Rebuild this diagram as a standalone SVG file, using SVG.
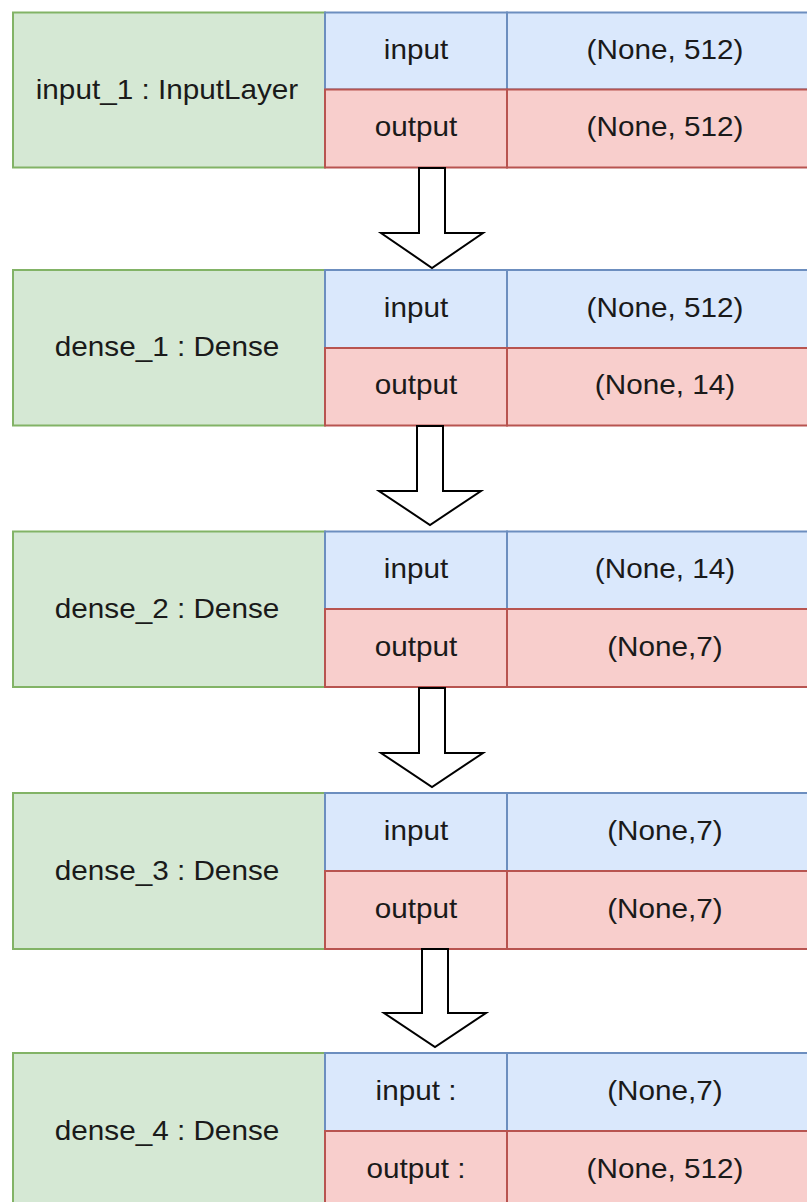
<svg xmlns="http://www.w3.org/2000/svg" width="807" height="1202" viewBox="0 0 807 1202">
  <style>
    .bg { fill: #ffffff; }
    .name { fill: #d5e8d4; stroke: #82b366; stroke-width: 2; }
    .in { fill: #dae8fc; stroke: #6c8ebf; stroke-width: 2; }
    .out { fill: #f8cecc; stroke: #b85450; stroke-width: 2; }
    .arrow { fill: #ffffff; stroke: #000000; stroke-width: 2; stroke-linejoin: miter; }
    text { font-family: "Liberation Sans", Arial, sans-serif; font-size: 27px; fill: #1a1a1a; text-anchor: middle; }
  </style>
  <rect class="bg" x="0" y="0" width="807" height="1202"/>

  <!-- Layer: input_1 -->
  <g id="input_1">
    <rect class="name" x="13" y="12.5" width="312" height="155"/>
    <rect class="in" x="325" y="12.5" width="182" height="77"/>
    <rect class="in" x="507" y="12.5" width="315" height="77"/>
    <rect class="out" x="325" y="89.5" width="182" height="78"/>
    <rect class="out" x="507" y="89.5" width="315" height="78"/>
    <text transform="translate(167,98.5) scale(1.1,1)">input_1 : InputLayer</text>
    <text transform="translate(416,58.5) scale(1.1,1)">input</text>
    <text transform="translate(665,58.5) scale(1.1,1)">(None, 512)</text>
    <text transform="translate(416,136) scale(1.1,1)">output</text>
    <text transform="translate(665,136) scale(1.1,1)">(None, 512)</text>
  </g>

  <!-- Layer: dense_1 -->
  <g id="dense_1">
    <rect class="name" x="13" y="270" width="312" height="155.5"/>
    <rect class="in" x="325" y="270" width="182" height="78"/>
    <rect class="in" x="507" y="270" width="315" height="78"/>
    <rect class="out" x="325" y="348" width="182" height="77.5"/>
    <rect class="out" x="507" y="348" width="315" height="77.5"/>
    <text transform="translate(167,356) scale(1.1,1)">dense_1 : Dense</text>
    <text transform="translate(416,316.5) scale(1.1,1)">input</text>
    <text transform="translate(665,316.5) scale(1.1,1)">(None, 512)</text>
    <text transform="translate(416,394) scale(1.1,1)">output</text>
    <text transform="translate(665,394) scale(1.1,1)">(None, 14)</text>
  </g>

  <!-- Layer: dense_2 -->
  <g id="dense_2">
    <rect class="name" x="13" y="531.5" width="312" height="155.5"/>
    <rect class="in" x="325" y="531.5" width="182" height="77.5"/>
    <rect class="in" x="507" y="531.5" width="315" height="77.5"/>
    <rect class="out" x="325" y="609" width="182" height="78"/>
    <rect class="out" x="507" y="609" width="315" height="78"/>
    <text transform="translate(167,617.5) scale(1.1,1)">dense_2 : Dense</text>
    <text transform="translate(416,577.5) scale(1.1,1)">input</text>
    <text transform="translate(665,577.5) scale(1.1,1)">(None, 14)</text>
    <text transform="translate(416,655.5) scale(1.1,1)">output</text>
    <text transform="translate(665,655.5) scale(1.1,1)">(None,7)</text>
  </g>

  <!-- Layer: dense_3 -->
  <g id="dense_3">
    <rect class="name" x="13" y="793" width="312" height="156"/>
    <rect class="in" x="325" y="793" width="182" height="78"/>
    <rect class="in" x="507" y="793" width="315" height="78"/>
    <rect class="out" x="325" y="871" width="182" height="78"/>
    <rect class="out" x="507" y="871" width="315" height="78"/>
    <text transform="translate(167,879.5) scale(1.1,1)">dense_3 : Dense</text>
    <text transform="translate(416,839.5) scale(1.1,1)">input</text>
    <text transform="translate(665,839.5) scale(1.1,1)">(None,7)</text>
    <text transform="translate(416,917.5) scale(1.1,1)">output</text>
    <text transform="translate(665,917.5) scale(1.1,1)">(None,7)</text>
  </g>

  <!-- Layer: dense_4 -->
  <g id="dense_4">
    <rect class="name" x="13" y="1053" width="312" height="156"/>
    <rect class="in" x="325" y="1053" width="182" height="78"/>
    <rect class="in" x="507" y="1053" width="315" height="78"/>
    <rect class="out" x="325" y="1131" width="182" height="78"/>
    <rect class="out" x="507" y="1131" width="315" height="78"/>
    <text transform="translate(167,1139.5) scale(1.1,1)">dense_4 : Dense</text>
    <text transform="translate(416,1099.5) scale(1.1,1)">input :</text>
    <text transform="translate(665,1099.5) scale(1.1,1)">(None,7)</text>
    <text transform="translate(416,1177.5) scale(1.1,1)">output :</text>
    <text transform="translate(665,1177.5) scale(1.1,1)">(None, 512)</text>
  </g>

  <!-- Block arrows between layers -->
  <g id="connectors">
    <path class="arrow" d="M419,168 L445,168 L445,233 L483,233 L432,268 L381,233 L419,233 Z"/>
    <path class="arrow" d="M417,426 L443,426 L443,491 L481,491 L430,525 L379,491 L417,491 Z"/>
    <path class="arrow" d="M419,688 L445,688 L445,753 L483,753 L432,787 L381,753 L419,753 Z"/>
    <path class="arrow" d="M422,949 L448,949 L448,1013 L486,1013 L435,1047 L384,1013 L422,1013 Z"/>
  </g>
</svg>
